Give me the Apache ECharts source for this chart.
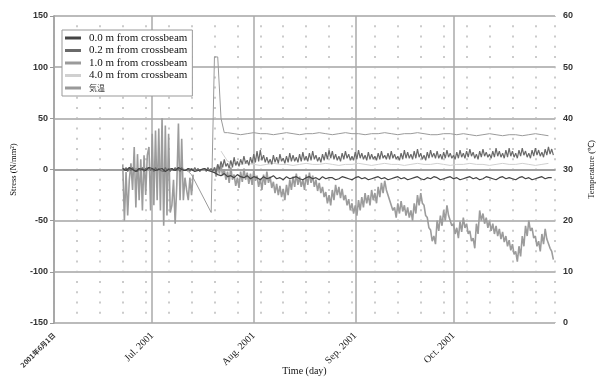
<!DOCTYPE html>
<html>
<head>
<meta charset="utf-8">
<script src="https://cdn.jsdelivr.net/npm/echarts@6/dist/echarts.min.js"></script>
<style>
  html, body { margin: 0; padding: 0; background: #fff; }
  #chart { width: 602px; height: 377px; }
</style>
</head>
<body>
<div id="chart"></div>
<script>
// x is counted in days from 2001-06-01
const monthTicks = [0, 30, 61, 92, 122];
const monthLabels = ["2001年6月1日", "Jul. 2001", "Aug. 2001", "Sep. 2001", "Oct. 2001"];
const names = ["0.0 m from crossbeam", "0.2 m from crossbeam", "1.0 m from crossbeam", "4.0 m from crossbeam", "気温"];

// stress (N/mm2), one value a day
const s00Early = [1, -1, 2, 0, -2, 1, 0, -1, 2, 1, -1, 0, 1, -2, 0, 1, -1, 2, 0, -1, 1, 0, -2, -1, 0, 1, -1, -2]; // from day 21
const s00Late = [ // from day 49
  -3, -5, -6, -4, -7, -6, -8, -5, -7, -8,
  -6, -9, -7, -8, -10, -7, -9, -8, -6, -9,
  -8, -10, -7, -9, -8, -7, -9, -10, -8, -7,
  -9, -8, -10, -7, -9, -8, -8, -10, -9, -7,
  -8, -9, -10, -8, -7, -9, -8, -10, -9, -8,
  -7, -9, -8, -10, -9, -8, -7, -9, -8, -10,
  -9, -8, -7, -9, -10, -8, -9, -7, -8, -10,
  -9, -8, -7, -9, -8, -10, -9, -8, -7, -9,
  -8, -10, -9, -7, -8, -9, -10, -8, -7, -9,
  -8, -9, -10, -8, -7, -9, -8, -10, -9, -8,
  -7, -9, -8, -8
];

// stress, two values a day
const s02Early = [ // from day 21
  1, -1, 2, -2, 1, -1, 2, -1, 0, -2,
  1, -1, 2, -2, 1, 0, 2, -1, 1, -2,
  2, -1, 1, -1, 0, -2, 2, -1, 1, -2,
  1, -1, 2, -1, 1, -2, 2, -1, 0, -1,
  1, -2, 1, -1, 2, -1, 1, -2, 0, -1,
  1, -2, 2, -1, 1, -2
];
const s02Late = [ // from day 49
  2, -3, 5, 0, 8, 2, 10, 3, 6, 1, 9, 2, 12, 4, 8, 3, 10, 5, 13, 6,
  9, 4, 12, 6, 15, 7, 18, 8, 19, 9, 14, 7, 12, 6, 10, 5, 14, 7, 12, 6,
  15, 8, 11, 6, 13, 7, 16, 8, 14, 8, 12, 7, 15, 8, 17, 9, 13, 8, 16, 9,
  18, 10, 14, 8, 12, 7, 15, 9, 17, 10, 19, 11, 18, 10, 15, 9, 13, 8, 16, 10,
  18, 11, 15, 9, 13, 9, 17, 10, 19, 11, 16, 10, 14, 9, 17, 10, 15, 10, 13, 9,
  16, 10, 18, 11, 14, 10, 16, 10, 18, 11, 15, 10, 13, 9, 16, 10, 19, 11, 17, 11,
  15, 10, 18, 11, 20, 12, 16, 10, 14, 9, 17, 11, 19, 12, 16, 11, 18, 11, 15, 10,
  17, 11, 19, 12, 16, 11, 14, 10, 17, 11, 19, 12, 16, 11, 18, 12, 20, 13, 17, 11,
  15, 10, 18, 12, 20, 13, 17, 12, 15, 11, 18, 12, 21, 13, 18, 12, 16, 11, 19, 12,
  21, 13, 18, 12, 16, 11, 19, 13, 21, 14, 18, 12, 16, 11, 19, 13, 21, 14, 19, 13,
  17, 12, 20, 14, 22, 15, 20, 14
];

const s10Early = [0, 1, -1, 0, 1, 0, -1, 1, 0, -1, 0, 1, 0, -1, 1, 0, 0, -1, 1, 0, -2, -5]; // day 21..42
const s10Jump = [-42, 110, 110, 50, 36]; // day 48..52
const s10Late = [ // from day 53, every 2 days
  36, 35, 34, 35, 36, 35, 35, 34, 35, 36,
  35, 34, 35, 35, 36, 35, 34, 35, 36, 35,
  35, 34, 35, 35, 36, 35, 34, 35, 35, 36,
  35, 34, 34, 35, 35, 34, 35, 34, 33, 34,
  35, 34, 33, 34, 34, 33, 34, 35, 34, 33
];

const s40 = [ // from day 51, every 2 days
  18, 8, 6, 5, 6, 5, 4, 5, 6, 5,
  5, 4, 5, 6, 5, 5, 6, 5, 4, 5,
  5, 6, 5, 4, 5, 6, 5, 5, 4, 5,
  6, 5, 5, 6, 5, 4, 5, 5, 6, 5,
  5, 4, 5, 6, 5, 5, 6, 5, 4, 5, 6
];

// air temperature (deg C), two values a day
const tempEarly = [ // day 21..42.5
  31.0, 20.0, 29.5, 21.0, 28.0, 31.2, 26.0, 34.4, 22.6, 33.0,
  24.0, 32.0, 22.0, 32.8, 25.0, 32.8, 34.4, 22.0, 37.0, 23.0,
  37.6, 24.0, 38.0, 22.0, 40.0, 19.0, 38.6, 21.0, 37.0, 21.6,
  23.0, 28.0, 19.4, 27.0, 39.0, 24.0, 36.0, 24.0, 28.4, 26.0,
  24.0, 28.4, 25.0, 29.0
];
const tempLate = [ // from day 49
  30.4, 28.6, 31.0, 29.2, 30.8, 28.8, 30.0, 28.0, 29.6, 27.4, 30.4, 28.0, 29.0, 26.8, 28.4, 26.4, 29.6, 27.6, 30.2, 28.0,
  29.4, 27.2, 29.2, 27.0, 29.8, 27.8, 28.8, 26.6, 28.2, 26.0, 29.0, 27.0, 29.6, 27.4, 28.6, 26.4, 27.6, 25.4, 27.2, 25.0,
  26.8, 24.6, 26.2, 24.0, 27.0, 25.0, 28.0, 26.0, 28.6, 26.6, 29.2, 27.0, 28.6, 26.6, 28.0, 26.0, 29.0, 27.0, 29.4, 27.4,
  28.8, 26.6, 28.0, 25.8, 27.4, 25.4, 26.6, 24.6, 25.6, 23.4, 25.0, 23.0, 26.0, 24.0, 27.0, 25.0, 26.6, 24.4, 26.2, 24.0,
  25.0, 23.0, 24.2, 22.0, 23.4, 21.4, 23.0, 21.0, 24.0, 22.0, 24.6, 22.6, 25.4, 23.4, 25.0, 23.0, 26.0, 24.0, 25.4, 23.4,
  26.6, 24.6, 27.4, 25.4, 27.8, 26.0, 26.0, 24.0, 24.0, 22.0, 22.6, 20.6, 23.4, 21.4, 23.8, 21.8, 23.0, 21.0, 22.6, 20.6,
  22.0, 20.0, 23.4, 21.4, 25.0, 23.0, 25.4, 23.4, 23.0, 21.0, 20.6, 18.6, 18.2, 16.0, 17.0, 15.4, 20.0, 18.0, 21.0, 19.0,
  22.0, 20.0, 23.0, 21.0, 21.0, 19.0, 19.4, 17.4, 18.6, 16.6, 19.8, 17.8, 20.6, 18.6, 19.4, 17.4, 18.0, 16.0, 16.6, 14.6,
  19.4, 17.4, 22.0, 20.0, 21.4, 19.4, 20.6, 18.6, 20.0, 18.0, 19.4, 17.4, 19.0, 17.0, 18.4, 16.4, 17.8, 15.8, 17.0, 15.0,
  16.2, 14.2, 15.4, 13.4, 14.0, 12.0, 15.0, 13.0, 17.0, 15.0, 19.0, 17.0, 20.0, 18.0, 18.6, 16.6, 17.0, 15.0, 16.0, 14.0,
  17.4, 15.4, 18.4, 16.4, 16.6, 14.6, 14.0, 12.4
];

function pts(start, step, vals) {
  return vals.map((v, i) => [start + i * step, v]);
}

const colors = ["#444", "#6a6a6a", "#9a9a9a", "#d0d0d0", "#9c9c9c"];
const serif = "Liberation Serif";

const chart = echarts.init(document.getElementById("chart"));

function lineSeries(i, data, width, z, yIdx) {
  return {
    name: names[i],
    type: "line",
    yAxisIndex: yIdx || 0,
    data: data,
    showSymbol: false,
    symbol: "none",
    z: z,
    animation: false,
    lineStyle: { color: colors[i], width: width },
    itemStyle: { color: colors[i] }
  };
}

chart.setOption({
  animation: false,
  grid: { left: 54, right: 47, top: 16, bottom: 54, outerBoundsMode: "none" },
  legend: {
    orient: "vertical",
    left: 62,
    top: 30,
    backgroundColor: "#fff",
    borderColor: "#999",
    borderWidth: 1,
    borderRadius: 0,
    padding: [2, 5, 2, 3],
    itemGap: 0.5,
    itemWidth: 16,
    itemHeight: 3,
    icon: "rect",
    textStyle: { fontFamily: serif, fontSize: 11, lineHeight: 12, color: "#111", padding: [0, 0, 0, 3] },
    data: names.slice(0, 4).concat([{ name: names[4], itemStyle: { color: "#999" }, textStyle: { fontFamily: "Noto Sans CJK JP", fontSize: 8, color: "#333" } }])
  },
  xAxis: [
    {
      type: "value",
      min: 0,
      max: 153,
      name: "Time (day)",
      nameLocation: "middle",
      nameGap: 43,
      nameMoveOverlap: false,
      nameTextStyle: { fontFamily: serif, fontSize: 10, color: "#111" },
      axisLine: { show: true, lineStyle: { color: "#999", width: 1.5 } },
      axisTick: { show: false, customValues: monthTicks },
      axisLabel: {
        customValues: monthTicks,
        rotate: 45,
        margin: 11,
        fontFamily: serif,
        fontSize: 10,
        color: "#222",
        formatter: function (v) {
          const i = monthTicks.indexOf(v);
          if (i === 0) return "{cjk|" + monthLabels[0] + "}";
          return i >= 0 ? monthLabels[i] : "";
        },
        rich: { cjk: { fontFamily: "Noto Sans CJK JP", fontSize: 7, fontWeight: "bold", color: "#333" } }
      },
      splitLine: { show: true, lineStyle: { color: "#aaa", width: 1.5 } }
    },
    {
      type: "value",
      min: 0,
      max: 153,
      interval: 7,
      position: "bottom",
      axisLine: { show: false },
      axisTick: { show: false },
      axisLabel: { show: false },
      splitLine: { show: true, lineStyle: { color: "#bbb", width: 1.5, type: [2, 8.23], dashOffset: 1 } }
    }
  ],
  yAxis: [
    {
      type: "value",
      min: -150,
      max: 150,
      interval: 50,
      name: "Stress (N/mm²)",
      nameLocation: "middle",
      nameGap: 36,
      nameMoveOverlap: false,
      nameTextStyle: { fontFamily: serif, fontSize: 8.5, color: "#111" },
      axisLine: { show: true, lineStyle: { color: "#999", width: 1.5 } },
      axisTick: { show: true, length: 4, lineStyle: { color: "#999" } },
      axisLabel: { fontSize: 9, fontWeight: "bold", color: "#333", margin: 6, fontFamily: "Liberation Sans" },
      splitLine: { show: true, lineStyle: { color: "#a5a5a5", width: 1.5 } }
    },
    {
      type: "value",
      min: 0,
      max: 60,
      interval: 10,
      position: "right",
      name: "Temperature (℃)",
      nameLocation: "middle",
      nameGap: 32,
      nameRotate: 90,
      nameMoveOverlap: false,
      nameTextStyle: { fontFamily: serif, fontSize: 8.5, color: "#111" },
      axisLine: { show: true, lineStyle: { color: "#aaa", width: 1.5 } },
      axisTick: { show: false },
      axisLabel: { fontSize: 9, fontWeight: "bold", color: "#333", margin: 8, fontFamily: "Liberation Sans" },
      splitLine: { show: false }
    }
  ],
  series: [
    lineSeries(4, pts(21, 0.5, tempEarly).concat([[43, null]], pts(49, 0.5, tempLate)), 1.6, 2, 1),
    lineSeries(3, pts(51, 2, s40), 1, 3),
    lineSeries(2, pts(21, 1, s10Early).concat(pts(48, 1, s10Jump), pts(53, 2, s10Late)), 1, 4),
    lineSeries(1, pts(21, 0.5, s02Early).concat(pts(49, 0.5, s02Late)), 1.2, 5),
    lineSeries(0, pts(21, 1, s00Early).concat(pts(49, 1, s00Late)), 1.2, 6)
  ]
});
</script>
</body>
</html>
